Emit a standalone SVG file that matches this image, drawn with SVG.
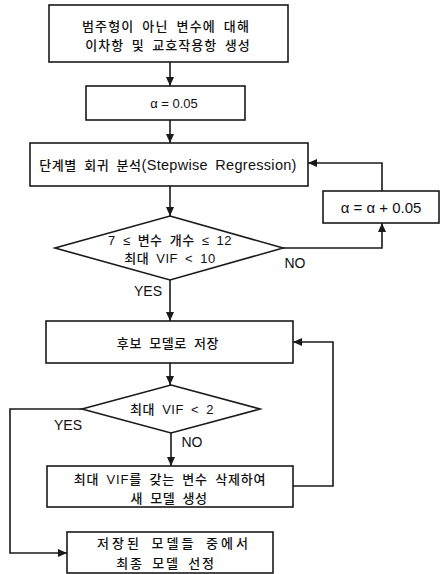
<svg xmlns="http://www.w3.org/2000/svg" width="440" height="574" viewBox="0 0 440 574">
<style>
.box{fill:#fff;stroke:#1a1a1a;stroke-width:1.6}
.ln{fill:none;stroke:#1a1a1a;stroke-width:1.6}
.t{font-family:"Liberation Sans","Noto Sans CJK KR",sans-serif;font-size:13px;font-weight:500;fill:#111;text-anchor:middle;dominant-baseline:central;word-spacing:3px}
.l{font-family:"Liberation Sans","Noto Sans CJK KR",sans-serif;font-size:14px;fill:#111;text-anchor:middle;dominant-baseline:central}
</style>
<defs>
<marker id="ah" markerWidth="10" markerHeight="10" refX="9" refY="5" orient="auto" markerUnits="userSpaceOnUse">
<path d="M0,1 L9,5 L0,9 Z" fill="#1a1a1a"/>
</marker>
</defs>
<rect width="440" height="574" fill="#fff"/>
<g id="connectors">
<line class="ln" x1="170" y1="62" x2="170" y2="86" marker-end="url(#ah)"/>
<line class="ln" x1="170" y1="120" x2="170" y2="143" marker-end="url(#ah)"/>
<line class="ln" x1="170" y1="186" x2="170" y2="216" marker-end="url(#ah)"/>
<polyline class="ln" points="283,248 382,248 382,223" marker-end="url(#ah)"/>
<polyline class="ln" points="382,191 382,163 308,163" marker-end="url(#ah)"/>
<line class="ln" x1="170" y1="280" x2="170" y2="321" marker-end="url(#ah)"/>
<line class="ln" x1="170" y1="363" x2="170" y2="385" marker-end="url(#ah)"/>
<line class="ln" x1="171" y1="433" x2="171" y2="466" marker-end="url(#ah)"/>
<polyline class="ln" points="293,486 333,486 333,342 293,342" marker-end="url(#ah)"/>
<polyline class="ln" points="82,409 10,409 10,553 67,553" marker-end="url(#ah)"/>
<text class="l" x="295" y="263">NO</text>
<text class="l" x="148" y="291">YES</text>
<text class="l" x="68" y="425">YES</text>
<text class="l" x="192" y="442">NO</text>
</g>
<g id="n1">
<rect class="box" x="49" y="5" width="239" height="57"/>
<text class="t" x="166" y="26" style="letter-spacing:1.2px">범주형이 아닌 변수에 대해</text>
<text class="t" x="168" y="45" style="letter-spacing:1px">이차항 및 교호작용항 생성</text>
</g>
<g id="n2">
<rect class="box" x="86" y="86" width="159" height="34"/>
<text class="l" x="174" y="103" style="font-size:13px">α = 0.05</text>
</g>
<g id="n3">
<rect class="box" x="30" y="143" width="278" height="43"/>
<text class="t" x="168" y="165" style="letter-spacing:0.6px">단계별 회귀 분석<tspan style="font-size:14.5px;font-weight:normal;letter-spacing:0.3px">(Stepwise Regression)</tspan></text>
</g>
<g id="n4">
<rect class="box" x="323" y="191" width="116" height="32"/>
<text class="l" x="381" y="207" style="font-size:15px">α = α + 0.05</text>
</g>
<g id="d1">
<polygon class="box" points="170,216 283,248 170,280 55,248"/>
<text class="t" x="170" y="240" style="letter-spacing:0.5px">7 ≤ 변수 개수 ≤ 12</text>
<text class="t" x="170" y="258" style="letter-spacing:0.5px">최대 VIF &lt; 10</text>
</g>
<g id="n5">
<rect class="box" x="46" y="321" width="247" height="42"/>
<text class="t" x="168" y="343" style="letter-spacing:0.6px">후보 모델로 저장</text>
</g>
<g id="d2">
<polygon class="box" points="171,385 260,409 171,433 82,409"/>
<text class="t" x="172" y="409" style="letter-spacing:0.5px">최대 VIF &lt; 2</text>
</g>
<g id="n6">
<rect class="box" x="47" y="466" width="246" height="41"/>
<text class="t" x="170" y="479" style="letter-spacing:0.8px">최대 VIF를 갖는 변수 삭제하여</text>
<text class="t" x="169" y="498" style="letter-spacing:0.6px">새 모델 생성</text>
</g>
<g id="n7">
<rect class="box" x="67" y="532" width="206" height="41"/>
<text class="t" x="174" y="543" style="letter-spacing:3px">저장된 모델들 중에서</text>
<text class="t" x="166" y="563" style="letter-spacing:1.8px">최종 모델 선정</text>
</g>
</svg>
